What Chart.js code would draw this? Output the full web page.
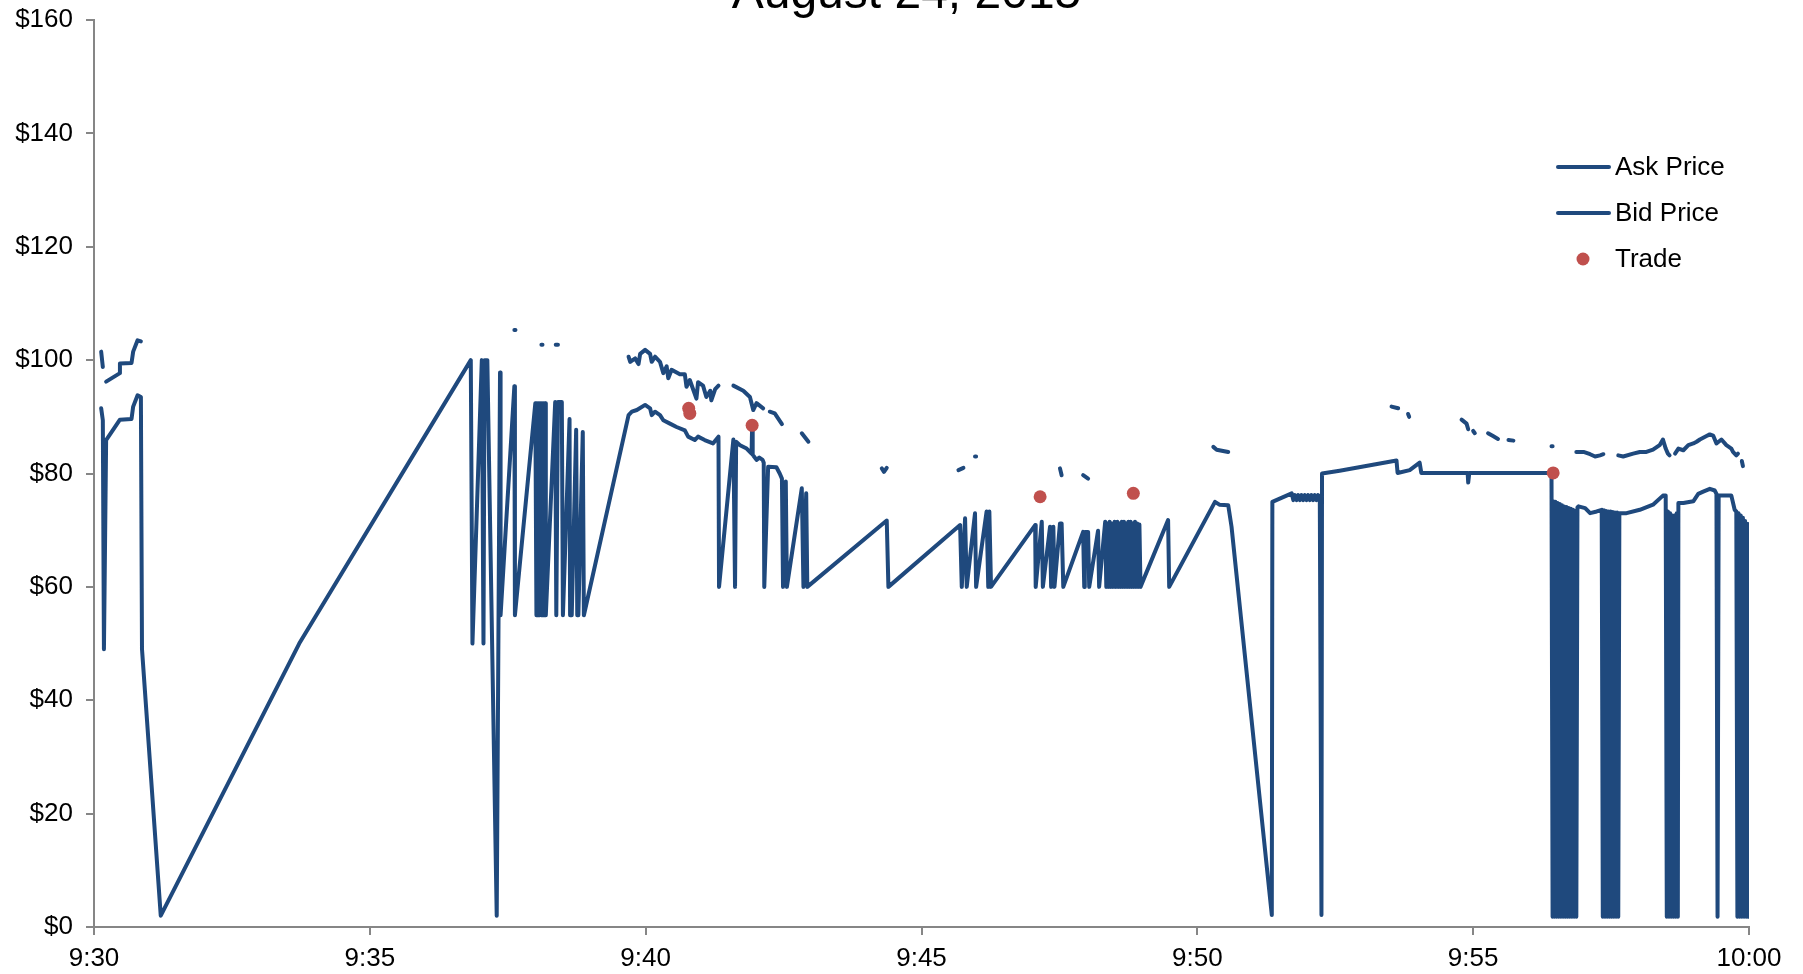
<!DOCTYPE html>
<html>
<head>
<meta charset="utf-8">
<title>Bid and Ask Prices - August 24, 2015</title>
<script src="https://cdn.jsdelivr.net/npm/chart.js@4.4.1/dist/chart.umd.min.js"></script>
<style>
  html, body { margin: 0; padding: 0; background: #fff; }
  #wrap { width: 1803px; height: 974px; overflow: hidden; position: relative; }
  #chart { display: block; position: absolute; left: 0; top: -29px; }
</style>
</head>
<body>
<div id="wrap"><canvas id="chart" width="1813" height="1003"></canvas></div>
<script>
// time is minutes after 9:30, price in dollars; a null price breaks the line

const askPoints = [
  [0.13, 101.5], [0.16, 98.8], [0.19, null],
  [0.22, 96.2], [0.47, 97.7], [0.47, 99.4], [0.68, 99.5], [0.71, 101.5], [0.79, 103.5], [0.85, 103.3], [1.0, null],
  [7.62, 105.3], [7.64, 105.3], [7.8, null],
  [8.11, 102.7], [8.13, 102.7], [8.2, null],
  [8.37, 102.7], [8.41, 102.7], [8.6, null],
  [9.69, 100.6], [9.72, 99.7], [9.81, 100.3], [9.87, 99.3], [9.90, 101.1], [9.99, 101.8], [10.08, 101.1],
  [10.11, 99.7], [10.17, 100.6], [10.26, 99.7], [10.32, 97.7], [10.38, 98.9], [10.41, 96.8], [10.47, 98.3],
  [10.62, 97.5], [10.71, 97.5], [10.74, 95.3], [10.80, 96.5], [10.92, 93.2], [10.95, 96.1], [11.04, 95.5],
  [11.10, 93.5], [11.17, 94.6], [11.19, 92.9], [11.26, 94.9], [11.32, 95.5], [11.4, null],
  [11.59, 95.5], [11.77, 94.6], [11.89, 93.5], [11.95, 91.2], [12.01, 92.4], [12.13, 91.5], [12.2, null],
  [12.25, 90.9], [12.34, 90.6], [12.47, 88.7], [12.6, null],
  [12.83, 87.1], [12.95, 85.6], [13.5, null],
  [14.28, 80.9], [14.32, 80.3], [14.37, 81.0], [15.0, null],
  [15.67, 80.6], [15.76, 81.0], [15.85, null],
  [15.97, 83.0], [15.99, 83.0], [16.5, null],
  [17.51, 80.9], [17.54, 79.7], [17.7, null],
  [17.93, 79.7], [18.02, 79.1], [19.0, null],
  [20.29, 84.7], [20.35, 84.2], [20.56, 83.8], [21.0, null],
  [23.52, 91.8], [23.64, 91.5], [23.7, null],
  [23.82, 90.5], [23.84, 90.0], [24.3, null],
  [24.79, 89.5], [24.88, 88.8], [24.91, 87.8], [24.95, null],
  [25.00, 87.5], [25.03, 87.1], [25.15, null],
  [25.27, 87.1], [25.36, 86.6], [25.45, 86.1], [25.55, null],
  [25.64, 85.9], [25.73, 85.8], [26.0, null],
  [26.42, 84.8], [26.44, 84.8], [26.6, null],
  [26.87, 83.8], [27.00, 83.8], [27.12, 83.4], [27.21, 83.0], [27.30, 83.2], [27.36, 83.4], [27.5, null],
  [27.63, 83.2], [27.72, 83.0], [27.90, 83.5], [28.02, 83.8], [28.14, 83.8], [28.26, 84.2], [28.38, 85.0],
  [28.44, 86.0], [28.49, 84.4], [28.53, 83.5], [28.56, 83.2], [28.6, null],
  [28.66, 83.5], [28.72, 84.4], [28.81, 84.1], [28.90, 85.0], [28.99, 85.3], [29.05, 85.6], [29.11, 86.0],
  [29.17, 86.3], [29.23, 86.6], [29.29, 86.9], [29.35, 86.7], [29.41, 85.3], [29.50, 86.0], [29.59, 85.0],
  [29.68, 84.4], [29.71, 83.8], [29.77, 83.2], [29.80, 83.5], [29.84, null],
  [29.87, 82.2], [29.89, 81.3]
];

const bidPoints = [
  [0.13, 91.5], [0.16, 89.4], [0.18, 49], [0.22, 85.9], [0.47, 89.5], [0.68, 89.6], [0.71, 91.8],
  [0.79, 93.8], [0.85, 93.5], [0.87, 49], [1.21, 2], [3.72, 50],
  [6.83, 100], [6.86, 50], [7.03, 100], [7.06, 50], [7.08, 100], [7.13, 100], [7.30, 2],
  [7.36, 97.8], [7.37, 55], [7.62, 95.4], [7.63, 55],
  [8.00, 92.4], [8.02, 55], [8.03, 92.4], [8.05, 55], [8.06, 92.4], [8.08, 55], [8.09, 92.4], [8.11, 55],
  [8.12, 92.4], [8.14, 55], [8.15, 92.4], [8.17, 55], [8.18, 92.4], [8.19, 55],
  [8.36, 92.6], [8.38, 55], [8.41, 92.6], [8.48, 92.6], [8.50, 55], [8.62, 89.6], [8.63, 55], [8.66, 55],
  [8.74, 87.7], [8.76, 55], [8.78, 55], [8.86, 87.3], [8.88, 55],
  [9.69, 90.3], [9.75, 90.9], [9.84, 91.2], [9.99, 92.1], [10.08, 91.5], [10.11, 90.3], [10.17, 90.9],
  [10.26, 90.3], [10.32, 89.4], [10.44, 88.8], [10.56, 88.2], [10.71, 87.6], [10.77, 86.5], [10.89, 85.9],
  [10.95, 86.5], [11.07, 85.9], [11.22, 85.3], [11.32, 86.5], [11.33, 60],
  [11.59, 86.0], [11.62, 60], [11.64, 85.6], [11.71, 85.0], [11.83, 84.4], [11.92, 83.5], [11.93, 88.5],
  [11.94, 83.3], [12.01, 82.4], [12.06, 82.8], [12.12, 82.4], [12.14, 81.9], [12.15, 60],
  [12.22, 81.2], [12.37, 81.1], [12.43, 80.0], [12.47, 79.1], [12.49, 60], [12.54, 78.6], [12.56, 60],
  [12.83, 77.4], [12.86, 60], [12.91, 76.5], [12.93, 60],
  [14.37, 71.7], [14.40, 60],
  [15.70, 70.9], [15.73, 60], [15.79, 72.1], [15.82, 60], [15.97, 73.0], [15.99, 60],
  [16.18, 73.3], [16.21, 60], [16.23, 73.3], [16.26, 60],
  [17.06, 70.9], [17.07, 60], [17.18, 71.5], [17.20, 60], [17.33, 70.6], [17.35, 60], [17.39, 70.6],
  [17.41, 60], [17.51, 71.2], [17.54, 71.2], [17.57, 60],
  [17.93, 69.7], [17.95, 60], [17.96, 69.7], [18.02, 69.7], [18.04, 60], [18.20, 69.9], [18.22, 60],
  [18.33, 71.5], [18.35, 60], [18.37, 71.2], [18.39, 60], [18.41, 71.5], [18.43, 60], [18.45, 71.2],
  [18.47, 60], [18.50, 71.5], [18.52, 60], [18.55, 71.5], [18.57, 60], [18.59, 71.2], [18.61, 60],
  [18.63, 71.5], [18.65, 60], [18.67, 71.5], [18.69, 60], [18.71, 71.2], [18.73, 60], [18.75, 71.5],
  [18.77, 60], [18.79, 71.5], [18.81, 60], [18.83, 71.2], [18.85, 60], [18.87, 71.5], [18.89, 60],
  [18.91, 71.2], [18.93, 60], [18.95, 71.0], [18.97, 60],
  [19.47, 71.8], [19.49, 60],
  [20.32, 75.0], [20.40, 74.5], [20.56, 74.4], [20.62, 70.6], [21.35, 2.1], [21.36, 75.0],
  [21.71, 76.5], [21.74, 75.3], [21.77, 76.2], [21.80, 75.3], [21.83, 76.2], [21.86, 75.3], [21.89, 76.2],
  [21.92, 75.3], [21.95, 76.2], [21.98, 75.3], [22.01, 76.2], [22.04, 75.3], [22.07, 76.2], [22.10, 75.3],
  [22.13, 76.2], [22.16, 75.3], [22.19, 76.2], [22.22, 75.5], [22.25, 2.1], [22.26, 80.0],
  [22.58, 80.5], [23.61, 82.3], [23.63, 80.1], [23.85, 80.6], [24.03, 81.9], [24.06, 80.1],
  [24.90, 80.1], [24.91, 78.4], [24.93, 80.1], [26.42, 80.1], [26.44, 1.8],
  [26.45, 75.1], [26.47, 1.8], [26.49, 75.0], [26.51, 1.8], [26.53, 74.8], [26.55, 1.8], [26.57, 74.6],
  [26.59, 1.8], [26.61, 74.4], [26.63, 1.8], [26.65, 74.2], [26.67, 1.8], [26.69, 74.1], [26.71, 1.8],
  [26.73, 73.9], [26.75, 1.8], [26.77, 73.8], [26.79, 1.8], [26.81, 73.6], [26.83, 1.8], [26.85, 73.4],
  [26.87, 1.8], [26.89, 74.0], [26.91, 74.2],
  [27.03, 73.9], [27.12, 73.0], [27.24, 73.3], [27.33, 73.6],
  [27.35, 1.8], [27.37, 73.5], [27.39, 1.8], [27.41, 73.4], [27.43, 1.8], [27.45, 73.3], [27.47, 1.8],
  [27.49, 73.3], [27.51, 1.8], [27.53, 73.2], [27.55, 1.8], [27.57, 73.1], [27.59, 1.8], [27.61, 73.1],
  [27.63, 1.8], [27.65, 73.0], [27.66, 73.0],
  [27.78, 73.0], [28.02, 73.6], [28.26, 74.5], [28.44, 76.1], [28.49, 76.1],
  [28.51, 1.8], [28.53, 73.3], [28.55, 1.8], [28.57, 73.0], [28.59, 1.8], [28.61, 72.6], [28.63, 1.8],
  [28.65, 72.6], [28.67, 1.8], [28.69, 73.0], [28.71, 1.8], [28.72, 74.8],
  [28.81, 74.8], [28.99, 75.1], [29.08, 76.4], [29.17, 76.8], [29.29, 77.3], [29.38, 77.0], [29.41, 76.4],
  [29.43, 1.8], [29.45, 76.1], [29.68, 76.1], [29.74, 73.6], [29.77, 73.3],
  [29.79, 1.8], [29.81, 73.0], [29.83, 1.8], [29.85, 72.6], [29.87, 1.8], [29.89, 72.2], [29.91, 1.8],
  [29.93, 71.6], [29.95, 1.8], [29.97, 71.1], [29.98, 1.8], [29.99, 70.8], [30.0, 1.8], [30.0, 38]
];

const tradePoints = [
  [10.78, 91.5], [10.80, 90.6], [11.93, 88.5], [17.15, 75.9], [18.84, 76.5], [26.45, 80.1]
];

const timeLabels = ['9:30', '9:35', '9:40', '9:45', '9:50', '9:55', '10:00'];
const priceLabels = ['$0', '$20', '$40', '$60', '$80', '$100', '$120', '$140', '$160'];

const lineBlue = '#1F497D';
const tradeRed = '#C0504D';
const axisGray = '#868686';

Chart.defaults.font.family = "'Liberation Sans', Arial, sans-serif";
Chart.defaults.color = '#000';

function toXY(points) {
  return points.map(p => ({ x: p[0], y: p[1] }));
}

// legend drawn inside the plot, upper right
const sideLegend = {
  id: 'sideLegend',
  afterDraw(chart) {
    const ctx = chart.ctx;
    const rows = [196, 242, 288];
    ctx.save();
    ctx.font = "26px 'Liberation Sans', Arial, sans-serif";
    ctx.textBaseline = 'middle';
    ctx.textAlign = 'left';
    chart.data.datasets.forEach((ds, i) => {
      const y = rows[i];
      if (ds.showLine) {
        ctx.strokeStyle = ds.borderColor;
        ctx.lineWidth = 4;
        ctx.lineCap = 'round';
        ctx.beginPath();
        ctx.moveTo(1558, y);
        ctx.lineTo(1609, y);
        ctx.stroke();
      } else {
        ctx.fillStyle = ds.backgroundColor;
        ctx.beginPath();
        ctx.arc(1583, y, 6.5, 0, Math.PI * 2);
        ctx.fill();
      }
      ctx.fillStyle = '#000';
      ctx.fillText(ds.label, 1615, y + 1);
    });
    ctx.restore();
  }
};

const ctx = document.getElementById('chart').getContext('2d');
new Chart(ctx, {
  type: 'scatter',
  data: {
    datasets: [
      {
        label: 'Ask Price',
        data: toXY(askPoints),
        showLine: true,
        spanGaps: false,
        borderColor: lineBlue,
        backgroundColor: lineBlue,
        borderWidth: 4,
        borderCapStyle: 'round',
        borderJoinStyle: 'round',
        pointRadius: 0,
        order: 1
      },
      {
        label: 'Bid Price',
        data: toXY(bidPoints),
        showLine: true,
        spanGaps: false,
        borderColor: lineBlue,
        backgroundColor: lineBlue,
        borderWidth: 4,
        borderCapStyle: 'round',
        borderJoinStyle: 'round',
        pointRadius: 0,
        order: 1
      },
      {
        label: 'Trade',
        data: toXY(tradePoints),
        showLine: false,
        backgroundColor: tradeRed,
        borderColor: tradeRed,
        borderWidth: 0,
        pointRadius: 6.5,
        order: 0
      }
    ]
  },
  options: {
    responsive: false,
    animation: false,
    devicePixelRatio: 1,
    layout: { padding: 0 },
    plugins: {
      legend: { display: false },
      tooltip: { enabled: false },
      title: {
        display: true,
        text: 'August 24, 2015',
        color: '#000',
        font: { size: 48, weight: 'normal', lineHeight: 1 },
        padding: { top: 0, bottom: 1 }
      }
    },
    scales: {
      x: {
        type: 'linear',
        min: 0,
        max: 30,
        afterFit: s => { s.height = 47; },
        border: { display: true, color: axisGray, width: 2 },
        grid: { display: true, drawOnChartArea: false, drawTicks: true, tickLength: 8, color: axisGray, lineWidth: 2 },
        ticks: {
          stepSize: 5,
          autoSkip: false,
          maxRotation: 0,
          padding: 8,
          color: '#000',
          font: { size: 26 },
          callback: v => timeLabels[v / 5]
        }
      },
      y: {
        min: 0,
        max: 160,
        afterFit: s => { s.width = 94; },
        border: { display: true, color: axisGray, width: 2 },
        grid: { display: true, drawOnChartArea: false, drawTicks: true, tickLength: 8, color: axisGray, lineWidth: 2 },
        ticks: {
          stepSize: 20,
          padding: 13,
          color: '#000',
          font: { size: 26 },
          callback: v => priceLabels[v / 20]
        }
      },
      // empty space on the right, keeps the plot edge at 10:00 and the title centred like the original
      pad: {
        position: 'right',
        min: 0,
        max: 1,
        afterFit: s => { s.width = 64; },
        border: { display: false },
        grid: { display: false },
        ticks: { display: false }
      }
    }
  },
  plugins: [sideLegend]
});
</script>
</body>
</html>
